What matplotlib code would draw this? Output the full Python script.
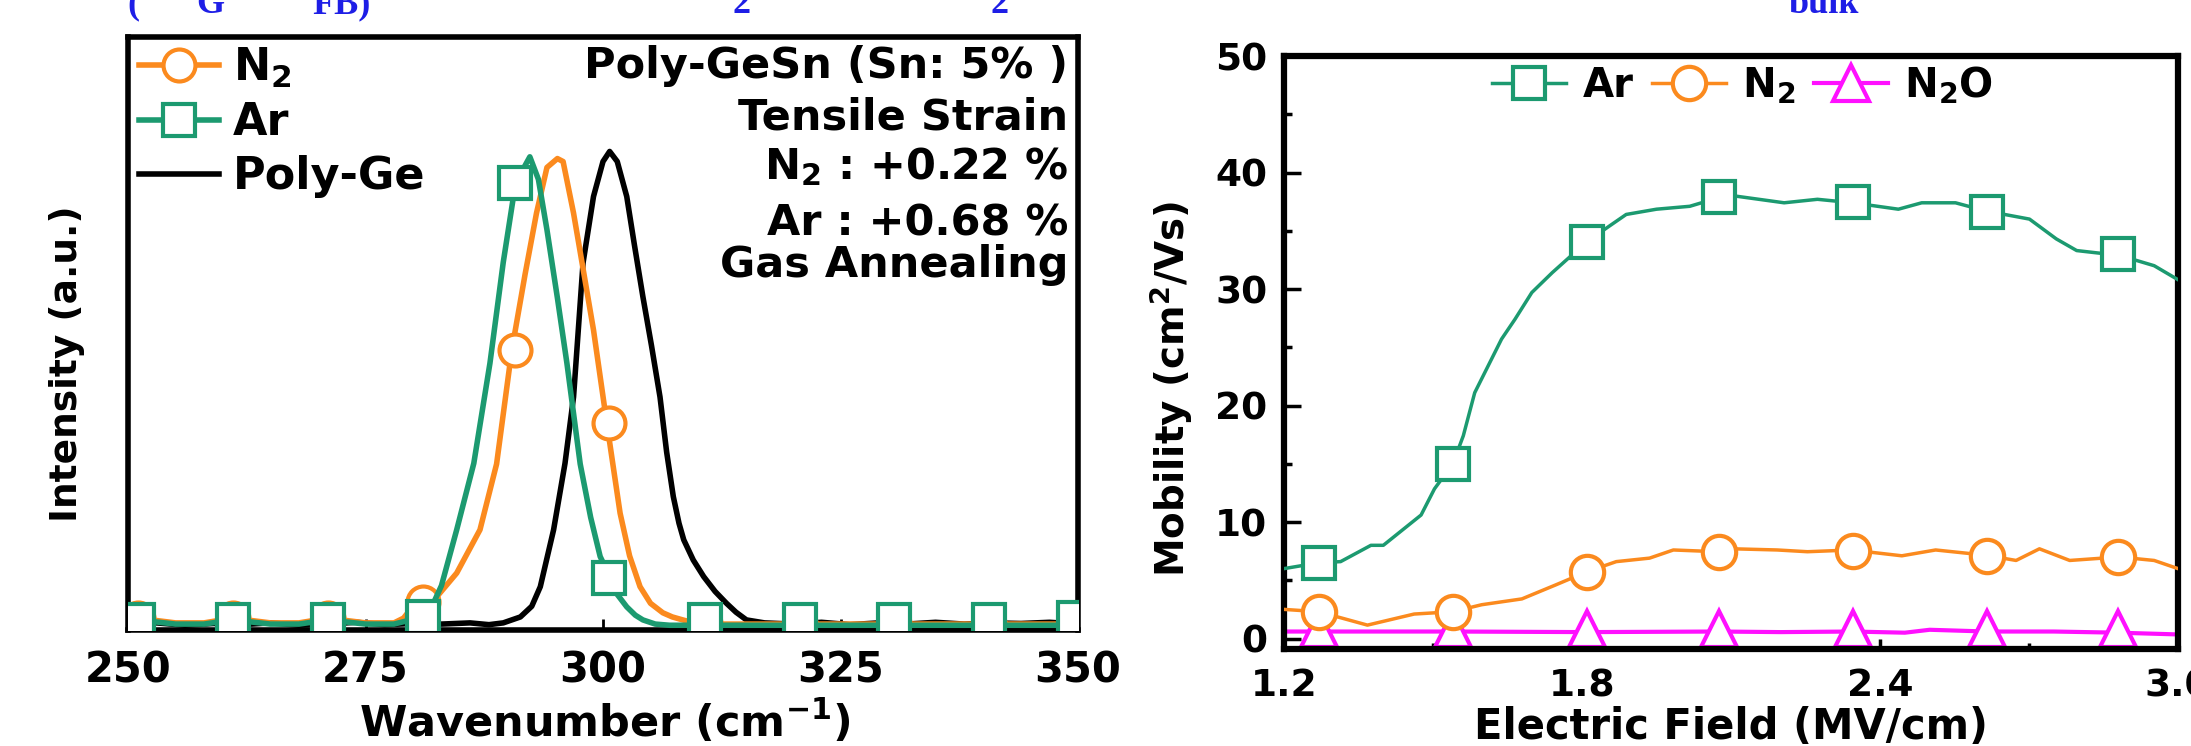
import matplotlib
matplotlib.use("Agg")
import matplotlib.pyplot as plt
from matplotlib.lines import Line2D
from matplotlib.ticker import MultipleLocator

plt.rcParams['font.family'] = ['DejaVu Sans']
plt.rcParams['font.weight'] = 'bold'
plt.rcParams['axes.labelweight'] = 'bold'
plt.rcParams['mathtext.fontset'] = 'dejavusans'
plt.rcParams['mathtext.default'] = 'bf'

GREEN = '#1c9a70'
ORANGE = '#fb8a1e'
MAGENTA = '#ff10ff'

# ---- left panel: Raman spectra ----
ge_x = [250, 253, 256, 259, 262, 265, 268, 271, 274, 277, 280, 283, 286, 288, 289.5,
        291.3, 292.5, 293.4, 294.8, 296.0, 296.9, 297.9, 299.0, 300.0, 300.7, 301.5,
        302.5, 303.3, 304.2, 305.1, 306.0, 306.7, 307.4, 308.0, 308.5, 309.5, 310.6,
        311.8, 313.0, 314.0, 315.1, 317, 320, 323, 326, 329, 332, 335, 338, 341, 344,
        347, 350]
ge_y = [0.010, 0.012, 0.008, 0.011, 0.009, 0.012, 0.008, 0.010, 0.013, 0.009, 0.011,
        0.010, 0.012, 0.009, 0.012, 0.022, 0.040, 0.073, 0.169, 0.281, 0.393, 0.619,
        0.731, 0.790, 0.807, 0.790, 0.731, 0.650, 0.562, 0.480, 0.393, 0.300, 0.225,
        0.180, 0.152, 0.118, 0.090, 0.065, 0.045, 0.030, 0.017, 0.012, 0.010, 0.013,
        0.009, 0.012, 0.010, 0.013, 0.010, 0.012, 0.011, 0.013, 0.010]

n2_x = [250, 251, 255, 258, 261, 265, 268, 271, 275, 278, 279, 280, 281, 282.5, 284.6,
        287.05, 288.8, 290.4, 291.8, 293.0, 294.1, 295.2, 295.8, 296.9, 298.0, 299.0,
        300.4, 301.8, 302.8, 303.9, 305.0, 306.3, 307.3, 308.4, 310, 315, 320, 330,
        340, 350]
n2_y = [0.035, 0.020, 0.012, 0.012, 0.020, 0.012, 0.012, 0.020, 0.012, 0.012, 0.020,
        0.040, 0.047, 0.056, 0.096, 0.169, 0.280, 0.472, 0.600, 0.703, 0.780, 0.795,
        0.790, 0.703, 0.600, 0.506, 0.349, 0.197, 0.125, 0.073, 0.045, 0.029, 0.022,
        0.017, 0.010, 0.010, 0.010, 0.010, 0.010, 0.010]

ar_x = [250, 251, 255, 258, 261, 265, 268, 271, 275, 278, 281, 282, 283, 284.6, 286.4,
        288.1, 289.5, 290.8, 292.3, 293.2, 294.1, 295.2, 296.2, 297.6, 298.7, 299.7,
        300.8, 301.5, 302.5, 303.4, 304.2, 305.5, 307, 310, 315, 320, 325, 330, 335,
        340, 345, 350]
ar_y = [0.030, 0.017, 0.010, 0.010, 0.017, 0.010, 0.010, 0.017, 0.010, 0.010, 0.022,
        0.040, 0.075, 0.169, 0.281, 0.450, 0.620, 0.754, 0.798, 0.760, 0.675, 0.560,
        0.450, 0.280, 0.190, 0.124, 0.087, 0.060, 0.039, 0.025, 0.017, 0.010, 0.008,
        0.008, 0.008, 0.008, 0.008, 0.008, 0.008, 0.008, 0.008, 0.008]

mk_x = [251, 261, 271, 281, 290.7, 300.6, 310.7, 320.7, 330.6, 340.6, 349.6]
n2_mk = [0.020, 0.020, 0.020, 0.047, 0.472, 0.349, 0.012, 0.012, 0.012, 0.012, 0.012]
ar_mk = [0.017, 0.017, 0.017, 0.022, 0.754, 0.087, 0.017, 0.017, 0.017, 0.017, 0.020]

raman_ticks = [250, 275, 300, 325, 350]
notes = ["Poly-GeSn (Sn: 5% )", "Tensile Strain", "N$_2$ : +0.22 %",
         "Ar : +0.68 %", "Gas Annealing"]

# ---- right panel: mobility vs field ----
ar2_x = [1.2, 1.27, 1.314, 1.375, 1.40, 1.476, 1.503, 1.54, 1.561, 1.584, 1.611, 1.638,
         1.665, 1.699, 1.740, 1.808, 1.855, 1.889, 1.950, 2.017, 2.072, 2.105, 2.207,
         2.274, 2.345, 2.437, 2.484, 2.552, 2.613, 2.701, 2.755, 2.796, 2.837, 2.881,
         2.952, 3.0]
ar2_y = [6.0, 6.5, 6.6, 8.0, 8.0, 10.6, 12.85, 15.0, 17.4, 21.1, 23.4, 25.7, 27.4, 29.7,
         31.4, 34.0, 35.4, 36.4, 36.85, 37.1, 37.8, 38.0, 37.4, 37.7, 37.4, 36.85, 37.4,
         37.4, 36.7, 36.0, 34.3, 33.3, 33.1, 32.9, 32.0, 30.8]

n22_x = [1.2, 1.27, 1.368, 1.462, 1.54, 1.598, 1.679, 1.747, 1.808, 1.869, 1.936, 1.984,
         2.072, 2.105, 2.193, 2.254, 2.342, 2.444, 2.512, 2.613, 2.674, 2.721, 2.782,
         2.881, 2.952, 3.0]
n22_y = [2.5, 2.3, 1.15, 2.1, 2.3, 2.9, 3.4, 4.6, 5.7, 6.6, 6.9, 7.6, 7.45, 7.7, 7.6,
         7.45, 7.6, 7.1, 7.6, 7.15, 6.7, 7.7, 6.7, 7.0, 6.7, 6.0]

n2o_x = [1.2, 1.27, 1.54, 1.81, 2.075, 2.2, 2.345, 2.45, 2.5, 2.615, 2.75, 2.88, 3.0]
n2o_y = [0.6, 0.6, 0.6, 0.55, 0.6, 0.55, 0.6, 0.5, 0.75, 0.6, 0.6, 0.5, 0.35]

fe_mk = [1.27, 1.54, 1.81, 2.075, 2.345, 2.615, 2.88]
ar2_mk = [6.5, 15.0, 34.0, 37.9, 37.5, 36.6, 33.0]
n22_mk = [2.3, 2.3, 5.7, 7.45, 7.55, 7.1, 7.0]
n2o_mk = [0.8, 0.8, 0.8, 0.8, 0.8, 0.8, 0.8]

field_ticks = [1.2, 1.8, 2.4, 3.0]
mob_ticks = [0, 10, 20, 30, 40, 50]

fig = plt.figure(figsize=(21.91, 7.46), dpi=100)

# clipped blue caption fragments at the top edge
for xp, s in [(133, "("), (210, "G"), (342, "FB)"), (741, "2"), (999, "2"), (1824, "bulk")]:
    fig.text(xp / 2191, 733 / 746, s, color='#1e1ee6', fontsize=26, ha='center',
             va='baseline', family='Liberation Serif', weight='bold')

ax1 = fig.add_axes([128 / 2191, 116 / 746, 950 / 2191, 593 / 746])
ax1.plot(ge_x, ge_y, color='black', lw=4, zorder=2)
ax1.plot(n2_x, n2_y, color=ORANGE, lw=4, zorder=3)
ax1.plot(mk_x, n2_mk, ls='none', marker='o', ms=23, mfc='white', mec=ORANGE, mew=3, zorder=3)
ax1.plot(ar_x, ar_y, color=GREEN, lw=4, zorder=4)
ax1.plot(mk_x, ar_mk, ls='none', marker='s', ms=23, mfc='white', mec=GREEN, mew=3, zorder=4)
ax1.set_xlim(250, 350)
ax1.set_ylim(0, 1.0)
ax1.set_xticks(raman_ticks)
ax1.set_yticks([])
ax1.tick_params(axis='x', direction='in', length=8, width=2, labelsize=30, pad=14)
for sp in ax1.spines.values():
    sp.set_linewidth(4)
ax1.set_xlabel("Wavenumber (cm$^{-1}$)", fontsize=31)
ax1.set_ylabel("Intensity (a.u.)", fontsize=27)
ax1.xaxis.set_label_coords(0.502, -0.155)
ax1.xaxis.label.set_va('center')
ax1.yaxis.set_label_coords(-0.064, 0.449)
ax1.yaxis.label.set_va('center')

h1 = [Line2D([], [], color=ORANGE, lw=4, marker='o', ms=23, mfc='white', mec=ORANGE, mew=3),
      Line2D([], [], color=GREEN, lw=4, marker='s', ms=23, mfc='white', mec=GREEN, mew=3),
      Line2D([], [], color='black', lw=4)]
ax1.legend(h1, ["N$_2$", "Ar", "Poly-Ge"], loc='upper left', bbox_to_anchor=(0.012, 0.985),
           frameon=False, handlelength=1.8, handletextpad=0.3, labelspacing=0.25,
           borderaxespad=0, borderpad=0, prop=dict(weight='bold', size=32))

note_y = [66, 117, 167, 224, 265]
for s, yp in zip(notes, note_y):
    ax1.text(0.99, (630 - yp) / 593, s, transform=ax1.transAxes, ha='right',
             va='center', fontsize=31)

ax2 = fig.add_axes([1284 / 2191, 97 / 746, 894 / 2191, 593 / 746])
ax2.plot(ar2_x, ar2_y, color=GREEN, lw=2.5, zorder=4)
ax2.plot(fe_mk, ar2_mk, ls='none', marker='s', ms=23, mfc='white', mec=GREEN, mew=3, zorder=4)
ax2.plot(n22_x, n22_y, color=ORANGE, lw=2.5, zorder=3)
ax2.plot(fe_mk, n22_mk, ls='none', marker='o', ms=24, mfc='white', mec=ORANGE, mew=3, zorder=3)
ax2.plot(n2o_x, n2o_y, color=MAGENTA, lw=3, zorder=2)
ax2.plot(fe_mk, n2o_mk, ls='none', marker='^', ms=26, mfc='white', mec=MAGENTA, mew=3, zorder=2)
ax2.set_xlim(1.2, 3.0)
ax2.set_ylim(-0.9, 50)
ax2.set_xticks(field_ticks)
ax2.set_yticks(mob_ticks)
ax2.xaxis.set_minor_locator(MultipleLocator(0.3))
ax2.yaxis.set_minor_locator(MultipleLocator(5))
ax2.tick_params(axis='y', which='major', direction='in', length=12, width=2.5,
                labelsize=27, pad=12)
ax2.tick_params(axis='y', which='minor', direction='in', length=6, width=2.5)
ax2.tick_params(axis='x', which='major', direction='in', length=7, width=2.5,
                labelsize=27, pad=14)
ax2.tick_params(axis='x', which='minor', direction='in', length=4, width=2.5)
ax2.set_xticklabels(["1.2", "1.8", "2.4", "3.0"])
for sp in ax2.spines.values():
    sp.set_linewidth(4.5)
ax2.set_xlabel("Electric Field (MV/cm)", fontsize=30)
ax2.set_ylabel("Mobility (cm$^2$/Vs)", fontsize=28)
ax2.xaxis.set_label_coords(0.5, -0.1315)
ax2.xaxis.label.set_va('center')
ax2.yaxis.set_label_coords(-0.126, 0.438)
ax2.yaxis.label.set_va('center')

h2 = [Line2D([], [], color=GREEN, lw=2.5, marker='s', ms=23, mfc='white', mec=GREEN, mew=3),
      Line2D([], [], color=ORANGE, lw=2.5, marker='o', ms=24, mfc='white', mec=ORANGE, mew=3),
      Line2D([], [], color=MAGENTA, lw=3, marker='^', ms=26, mfc='white', mec=MAGENTA, mew=3)]
ax2.legend(h2, ["Ar", "N$_2$", "N$_2$O"], loc='upper center', bbox_to_anchor=(0.513, 0.985),
           ncol=3, frameon=False, handlelength=1.85, handletextpad=0.4, columnspacing=0.45,
           borderaxespad=0, borderpad=0, prop=dict(weight='bold', size=29))

fig.savefig("out.png", dpi=100)
